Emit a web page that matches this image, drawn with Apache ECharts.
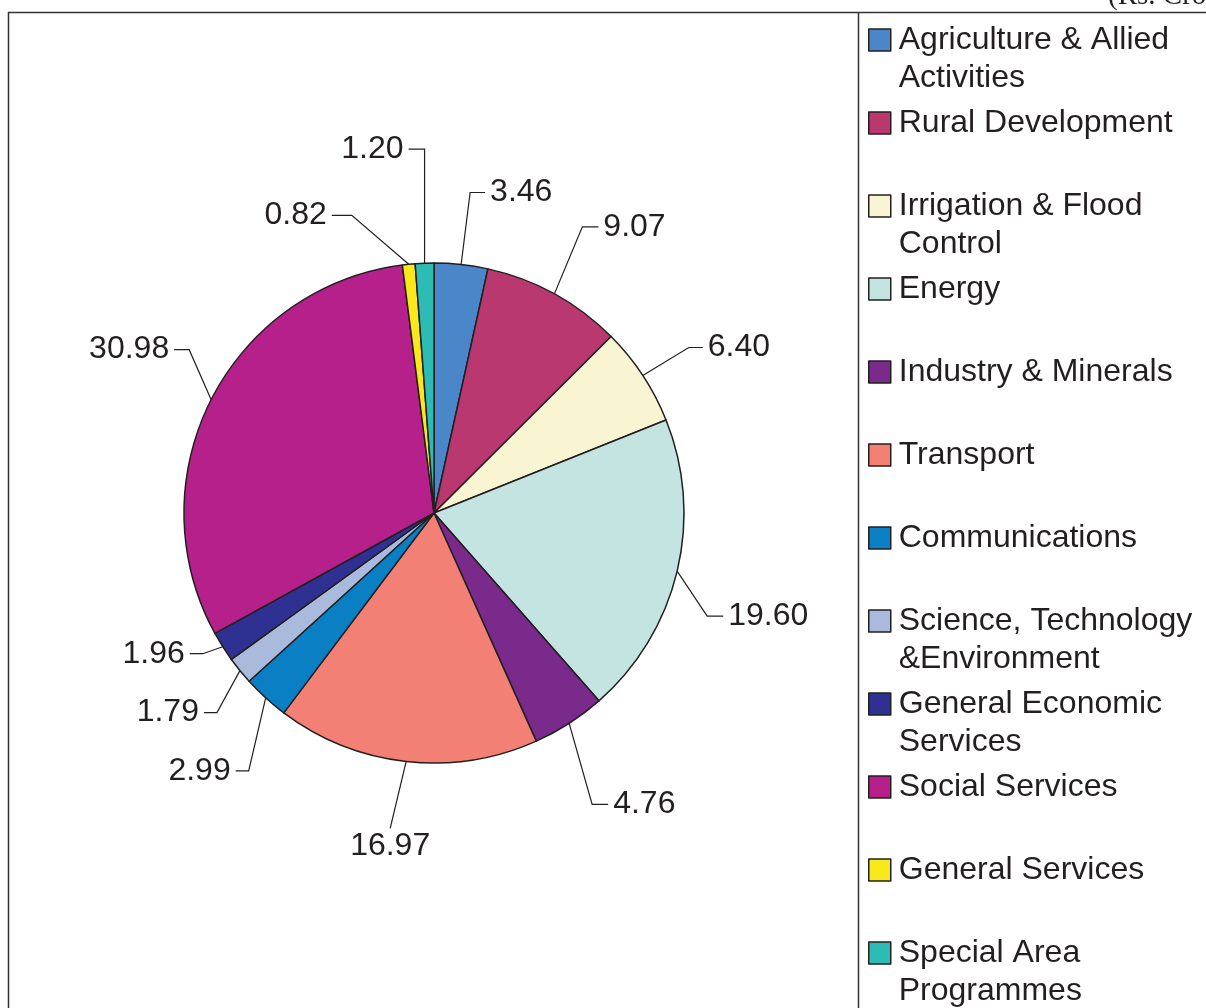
<!DOCTYPE html>
<html>
<head>
<meta charset="utf-8">
<script src="https://cdn.jsdelivr.net/npm/echarts@6/dist/echarts.min.js"></script>
<style>
html,body{margin:0;padding:0;background:#fff;}
#chart{width:1206px;height:1008px;}
</style>
</head>
<body>
<div id="chart"></div>
<script>
// ---- data ----
const categories = [
  "Agriculture & Allied\nActivities",
  "Rural Development",
  "Irrigation & Flood\nControl",
  "Energy",
  "Industry & Minerals",
  "Transport",
  "Communications",
  "Science, Technology\n&Environment",
  "General Economic\nServices",
  "Social Services",
  "General Services",
  "Special Area\nProgrammes"
];
const values = [3.46, 9.07, 6.40, 19.60, 4.76, 16.97, 2.99, 1.79, 1.96, 30.98, 0.82, 1.20];
const unitLabel = "(Rs. Crore)";

// ---- style ----
const colors = ['#4a86c8','#b8386f','#f9f4d2','#c3e4e0','#7a2a8a','#f38075','#0a7fc4','#a9badd','#2e3192','#b5208a','#f8e81c','#2cbcb4'];
// leader line style per slice: [dx, dy of first segment, signed horizontal length ('below' = label under bend)]
const leaders = [[9,-72,15],[28,-67,16],[46,-28,14],[30,45,16],[23,81,16],[-16,67,'below'],
                 [-17,73,-13],[-23,42,-13],[-20,7,-13],[-22,-50,-15],[-57,-49,-20],[0,-114,-16]];
const ink = '#231f20';

const chart = echarts.init(document.getElementById('chart'), null, {renderer:'canvas'});
const option = {
  animation: false,
  backgroundColor: '#fff',
  color: colors,
  graphic: [
    {type:'text', x:1108, y:-4, style:{text:unitLabel, fill:ink, font:'29px "Liberation Serif"', verticalAlign:'middle', align:'left'}},
    {type:'rect', shape:{x:0, y:0, width:1206, height:12}, style:{fill:'rgba(0,0,0,0)'}},
    {type:'line', shape:{x1:8, y1:12.5, x2:1206, y2:12.5}, style:{stroke:'#333', lineWidth:1.5}},
    {type:'line', shape:{x1:8.5, y1:12, x2:8.5, y2:1008}, style:{stroke:'#333', lineWidth:1.5}},
    {type:'line', shape:{x1:858.5, y1:12, x2:858.5, y2:1008}, style:{stroke:'#333', lineWidth:1.5}}
  ],
  legend: {
    orient: 'vertical',
    left: 868,
    top: -17,
    height: 1300,
    padding: 0,
    itemGap: -31,
    itemWidth: 22,
    itemHeight: 22,
    icon: 'rect',
    selectedMode: false,
    itemStyle: {borderColor: ink, borderWidth: 1.5},
    data: categories,
    formatter: function (name) {
      return '\n' + name + (name.indexOf('\n') < 0 ? '\n ' : '');
    },
    textStyle: {
      fontFamily: '"Liberation Sans", Arial, sans-serif',
      fontSize: 32,
      lineHeight: 38,
      color: ink,
      padding: [0, 0, 0, 3]
    }
  },
  series: [{
    type: 'pie',
    center: [434, 513],
    radius: 250,
    startAngle: 90,
    clockwise: true,
    avoidLabelOverlap: false,
    itemStyle: {borderColor: ink, borderWidth: 1.5},
    label: {
      show: true,
      position: 'outside',
      formatter: function (p) { return p.value.toFixed(2); },
      fontFamily: '"Liberation Sans", Arial, sans-serif',
      fontSize: 32,
      color: ink
    },
    labelLine: {show: true, length: 20, length2: 10, lineStyle: {color: ink, width: 1.2}},
    labelLayout: function (params) {
      const L = leaders[params.dataIndex];
      const p0 = params.labelLinePoints[0];
      const p1 = [p0[0] + L[0], p0[1] + L[1]];
      if (L[2] === 'below') {
        return {x: p1[0], y: p1[1] + 2, align: 'center', verticalAlign: 'top',
                labelLinePoints: [p0, p1, p1]};
      }
      const p2 = [p1[0] + L[2], p1[1]];
      const right = L[2] > 0;
      return {x: p2[0] + (right ? 5 : -5), y: p2[1], align: right ? 'left' : 'right',
              verticalAlign: 'middle', labelLinePoints: [p0, p1, p2]};
    },
    data: categories.map(function (c, i) { return {name: c, value: values[i]}; })
  }]
};
chart.setOption(option);
</script>
</body>
</html>
